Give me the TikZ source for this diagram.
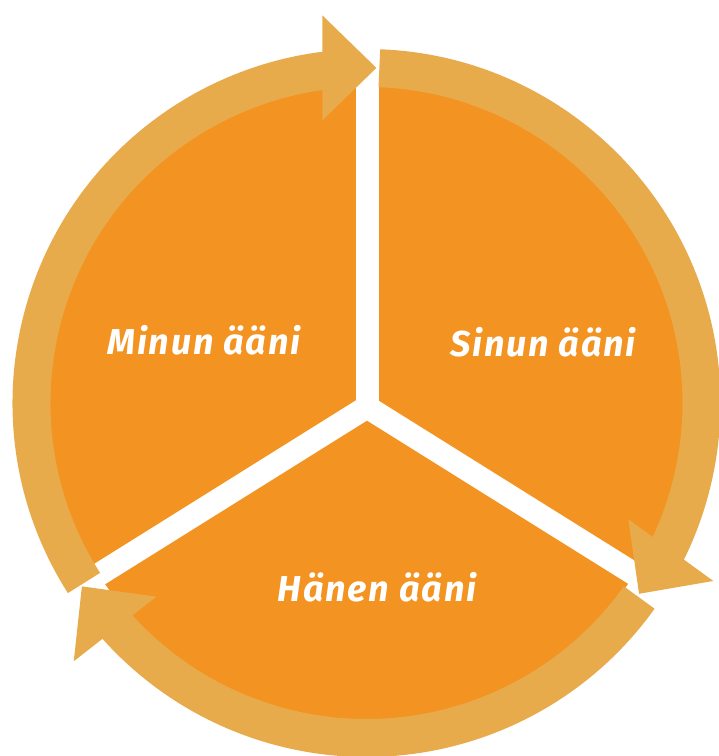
\documentclass[tikz,border=0pt]{standalone}
\usepackage{fontspec}
\setmainfont{Fira Sans}
\usetikzlibrary{calc}
\definecolor{sectorfill}{HTML}{F39321}
\definecolor{ringfill}{HTML}{E8AB4B}

\begin{document}
\begin{tikzpicture}[
    x=1pt, y=1pt,
    ring/.style={draw=ringfill, line width=38pt},
    head/.style={fill=ringfill},
    gap/.style={draw=white, line width=23pt},
    voice/.style={text=white, font=\addfontfeature{LetterSpace=5}\bfseries\itshape\fontsize{36}{42}\selectfont, anchor=base}
]
    \useasboundingbox (0,0) rectangle (719,756);
    \coordinate (c) at (366.5,353);
    \coordinate (y) at (367,349);

    \fill[sectorfill] (c) circle[radius=318];
    \foreach \a in {90,-32,212}
        \draw[gap] (y) -- ++(\a:420);

    % ring segments, each ending in a head (back angle \e, turned to \o)
    \foreach \s/\e/\o in {212.5/97.5/90, 87.8/-25.8/-36, -35.5/-138.05/-142} {
        \draw[ring] ([shift={(\s:335)}]c) arc[start angle=\s, end angle=\e-1.5, radius=335];
        \fill[head] ($(c)+(\e:338)+(\o:52.5)$) -- ($(c)+(\e:338)+(\o:-52.5)$)
            -- ($(c)+(\e:338)+(\o-90:54)$) -- cycle;
    }

    \node[voice] (minun) at (204,401) {Minun ääni};
    \node[voice] (sinun) at (543,399) {Sinun ääni};
    \node[voice] (hanen) at (377,154) {Hänen ääni};
\end{tikzpicture}
\end{document}
